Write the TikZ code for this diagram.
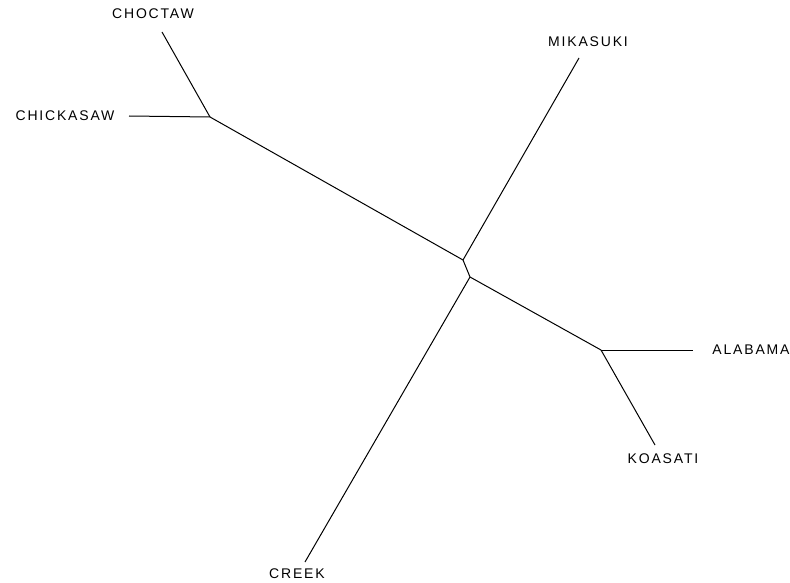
\documentclass[tikz,border=0pt]{standalone}
\usepackage{fontspec}
\setmainfont{Liberation Sans}[LetterSpace=13]
\begin{document}
\begin{tikzpicture}[x=1pt,y=-1pt,
  branch/.style={draw=black,line width=1pt},
  leaflabel/.style={inner sep=0pt,font=\fontsize{14}{15}\selectfont,text=black}]
\useasboundingbox (0,0) rectangle (790,583);
% internal junctions
\coordinate (jA) at (463,260);
\coordinate (jB) at (470,277);
\coordinate (jC) at (210,117);
\coordinate (jD) at (601,350);
% leaf ends
\coordinate (eChoctaw) at (162,32);
\coordinate (eChick) at (129,116);
\coordinate (eMika) at (579,58);
\coordinate (eAla) at (693,350);
\coordinate (eKoa) at (655,445);
\coordinate (eCreek) at (305,562);
% labels
\node[leaflabel] (lChoctaw) at (153,14) {CHOCTAW};
\node[leaflabel] (lChick) at (65,116) {CHICKASAW};
\node[leaflabel] (lMika) at (588,42) {MIKASUKI};
\node[leaflabel] (lAla) at (751,350) {ALABAMA};
\node[leaflabel] (lKoa) at (663,459) {KOASATI};
\node[leaflabel] (lCreek) at (297,574) {CREEK};
% branches
\draw[branch] (jA) -- (jB);
\draw[branch] (jA) -- (jC);
\draw[branch] (jA) -- (eMika);
\draw[branch] (jB) -- (eCreek);
\draw[branch] (jB) -- (jD);
\draw[branch] (jC) -- (eChoctaw);
\draw[branch] (jC) -- (eChick);
\draw[branch] (jD) -- (eAla);
\draw[branch] (jD) -- (eKoa);
\end{tikzpicture}
\end{document}
